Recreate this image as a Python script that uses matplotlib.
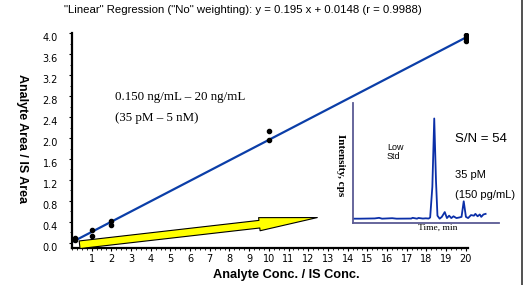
import numpy as np
import matplotlib
matplotlib.use("Agg")
import matplotlib.pyplot as plt
import matplotlib.transforms as mtransforms
from matplotlib.patches import FancyArrowPatch
from matplotlib.lines import Line2D

# calibration data (replicates)
conc = [0.15, 0.15, 1, 1, 2, 2, 10, 10, 20, 20, 20]
area = [0.09, 0.05, 0.24, 0.14, 0.42, 0.35, 2.13, 1.96, 3.96, 3.90, 3.85]

slope = 0.195
intercept = 0.0148
fit_x = [0.1, 20.2]

x_ticks = list(range(1, 21))
y_ticks = [0.0, 0.4, 0.8, 1.2, 1.6, 2.0, 2.4, 2.8, 3.2, 3.6, 4.0]

# low std chromatogram (time in % of window, intensity in fraction of full scale)
chrom_t = [0, 5, 15, 18, 20, 27, 30, 40, 41, 44, 45, 48, 50, 52, 53, 54.5, 55.8,
           57, 58, 59.5, 61, 63, 64.5, 66, 67.5, 69, 71, 73, 74.5, 76, 77.5,
           79, 81, 83, 84, 85.5, 87, 88, 89.5, 91]
chrom_i = [0.035, 0.035, 0.037, 0.042, 0.035, 0.039, 0.035, 0.036, 0.042, 0.035,
           0.041, 0.036, 0.038, 0.036, 0.045, 0.30, 0.87, 0.35, 0.06, 0.035,
           0.05, 0.09, 0.04, 0.06, 0.04, 0.055, 0.04, 0.045, 0.05, 0.18, 0.05,
           0.04, 0.065, 0.06, 0.075, 0.055, 0.07, 0.05, 0.07, 0.075]

fig = plt.figure(figsize=(5.25, 2.85), dpi=100)
ax = fig.add_axes([0.137, 0.130, 0.754, 0.754])

fx = np.array(fit_x)
ax.plot(fx, slope * fx + intercept, color="#0b3ea8", lw=1.6, zorder=2)
ax.plot(conc, area, "o", color="black", ms=3, zorder=3)

# yellow arrow
arrow = FancyArrowPatch((0.25, -0.04), (12.6, 0.49),
                        arrowstyle="simple,head_length=4.2,head_width=0.95,tail_width=0.55",
                        mutation_scale=10, facecolor="#ffff00", edgecolor="black",
                        lw=0.8, zorder=4)
ax.add_patch(arrow)

ax.set_xlim(0, 20.1)
ax.set_ylim(-0.095, 4.0)
ax.set_xticks(x_ticks)
ax.set_yticks(y_ticks)
ax.set_yticklabels([f"{v:.1f}" for v in y_ticks])
ax.set_xticks(np.arange(0, 20.1, 0.25), minor=True)
ax.set_yticks(np.arange(0, 4.05, 0.2), minor=True)
ax.tick_params(labelsize=7, length=2.5, width=0.8, direction="out")
ax.tick_params(axis="y", pad=7.5)
ax.tick_params(axis="x", pad=1.5)
ax.tick_params(which="minor", length=1.5, width=0.6)
for s in ["top", "right"]:
    ax.spines[s].set_visible(False)
for s in ["left", "bottom"]:
    ax.spines[s].set_linewidth(1.6)

# y labels sit a little below their ticks in the original
shift = mtransforms.ScaledTranslation(0, -4 / 100, fig.dpi_scale_trans)
for lab in ax.get_yticklabels():
    lab.set_transform(lab.get_transform() + shift)

fig.text(0.463, 0.965, '"Linear" Regression ("No" weighting): y = 0.195 x + 0.0148 (r = 0.9988)',
         ha="center", va="center", fontsize=8.2, family="Liberation Sans")
fig.text(0.546, 0.035, "Analyte Conc. / IS Conc.", ha="center", va="center",
         fontsize=9.2, weight="bold", family="Liberation Sans")
fig.text(0.042, 0.514, "Analyte Area / IS Area", ha="center", va="center",
         rotation=-90, fontsize=9, weight="bold", family="Liberation Sans")
fig.text(115 / 525, 1 - 97 / 285, "0.150 ng/mL \u2013 20 ng/mL", ha="left", va="center",
         fontsize=9.4, family="Liberation Serif")
fig.text(115 / 525, 1 - 118 / 285, "(35 pM \u2013 5 nM)", ha="left", va="center",
         fontsize=9.4, family="Liberation Serif")

# inset chromatogram
ins = fig.add_axes([0.672, 0.218, 0.278, 0.421])
ins.plot(chrom_t, chrom_i, color="#0b2fa8", lw=1.3)
ins.set_xlim(0, 100)
ins.set_ylim(0, 1)
ins.set_xticks([])
ins.set_yticks([])
ins.patch.set_alpha(0)
for s in ["top", "right"]:
    ins.spines[s].set_visible(False)
for s in ["left", "bottom"]:
    ins.spines[s].set_color("#5b5b94")
    ins.spines[s].set_linewidth(1.3)

fig.text(340 / 525, 1 - 165 / 285, "Intensity, cps", rotation=-90, ha="center", va="center",
         fontsize=8, weight="bold", family="Liberation Serif")
fig.text(438 / 525, 1 - 228 / 285, "Time, min", ha="center", va="center",
         fontsize=6.8, family="Liberation Serif")
fig.text(387 / 525, 1 - 152 / 285, "Low\nStd", ha="left", va="center",
         fontsize=6.5, family="Liberation Sans", linespacing=1.1)
fig.text(455 / 525, 1 - 139 / 285, "S/N = 54", ha="left", va="center",
         fontsize=9.5, family="Liberation Sans")
fig.text(455 / 525, 1 - 175 / 285, "35 pM", ha="left", va="center",
         fontsize=8, family="Liberation Sans")
fig.text(455 / 525, 1 - 195 / 285, "(150 pg/mL)", ha="left", va="center",
         fontsize=8, family="Liberation Sans")

# frame line on the right edge
fig.add_artist(Line2D([521.5 / 525, 521.5 / 525], [0, 1], transform=fig.transFigure,
                      color="#333333", lw=1.2))

fig.savefig("out.png", dpi=100)
